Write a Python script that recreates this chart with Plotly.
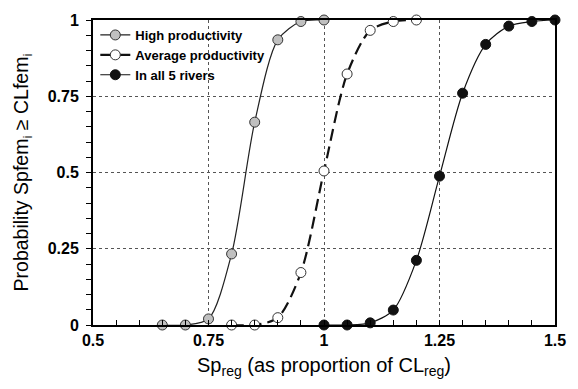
import plotly.graph_objects as go

x_high = [0.65, 0.70, 0.75, 0.80, 0.85, 0.90, 0.95, 1.00]
y_high = [0.0, 0.0, 0.02, 0.233, 0.665, 0.935, 0.995, 1.0]

x_avg = [0.80, 0.85, 0.90, 0.95, 1.00, 1.05, 1.10, 1.15, 1.20]
y_avg = [0.0, 0.0, 0.024, 0.172, 0.505, 0.823, 0.966, 0.995, 1.0]

x_all = [1.00, 1.05, 1.10, 1.15, 1.20, 1.25, 1.30, 1.35, 1.40, 1.45, 1.50]
y_all = [0.0, 0.0, 0.007, 0.049, 0.212, 0.488, 0.76, 0.92, 0.98, 0.995, 1.0]

names = ["High productivity", "Average productivity", "In all 5 rivers"]
x_ticks = [0.5, 0.75, 1.0, 1.25, 1.5]
x_tick_labels = ["0.5", "0.75", "1", "1.25", "1.5"]
y_ticks = [0, 0.25, 0.5, 0.75, 1.0]
y_tick_labels = ["0", "0.25", "0.5", "0.75", "1"]

FONT = "Liberation Sans, Arial, sans-serif"

fig = go.Figure()
fig.add_trace(go.Scatter(
    x=x_high, y=y_high, name=names[0], mode="lines+markers",
    line=dict(color="#222", width=1.2, shape="spline", smoothing=0.8),
    marker=dict(size=10, color="#c0c0c0", line=dict(color="#333", width=1)),
))
fig.add_trace(go.Scatter(
    x=x_avg, y=y_avg, name=names[1], mode="lines+markers",
    line=dict(color="#111", width=2.2, dash="12px,6px", shape="spline", smoothing=0.8),
    marker=dict(size=10, color="white", line=dict(color="#333", width=1)),
))
fig.add_trace(go.Scatter(
    x=x_all, y=y_all, name=names[2], mode="lines+markers",
    line=dict(color="#111", width=1.2, shape="spline", smoothing=0.8),
    marker=dict(size=10, color="#111", line=dict(color="#111", width=1)),
))

def axis_common(tickdir):
    return dict(
        showline=True, linecolor="black", linewidth=2, mirror=True,
        ticks=tickdir, ticklen=5, tickwidth=1.2, tickcolor="black",
        showgrid=True, gridcolor="#555", griddash="dot", gridwidth=1,
        zeroline=False,
        tickfont=dict(family=FONT, size=16, color="black", weight="bold"),
        minor=dict(ticks=tickdir, ticklen=5, tickwidth=1, tickcolor="black",
                   dtick=0.05, showgrid=False),
    )

fig.update_xaxes(
    range=[0.5, 1.5], tickvals=x_ticks, ticktext=x_tick_labels,
    title=dict(text="Sp<sub>reg</sub> (as proportion of CL<sub>reg</sub>)",
               font=dict(family=FONT, size=20, color="black"), standoff=10),
    **axis_common("inside"),
)
fig.update_yaxes(
    range=[0, 1.0], tickvals=y_ticks, ticktext=y_tick_labels,
    ticklabelstandoff=4,
    title=dict(text="Probability Spfem<sub>i</sub> ≥ CLfem<sub>i</sub>",
               font=dict(family=FONT, size=19.5, color="black"), standoff=14),
    **axis_common("outside"),
)

fig.update_layout(
    width=578, height=389,
    margin=dict(l=93, r=15, t=18, b=64),
    plot_bgcolor="white", paper_bgcolor="white",
    showlegend=True,
    legend=dict(x=0.005, y=1.0, xanchor="left", yanchor="top",
                bgcolor="rgba(255,255,255,0)",
                font=dict(family=FONT, size=13, color="black", weight="bold"),
                itemwidth=30, tracegroupgap=0),
)
fig.update_traces(cliponaxis=False)

fig.write_html("out.html")
